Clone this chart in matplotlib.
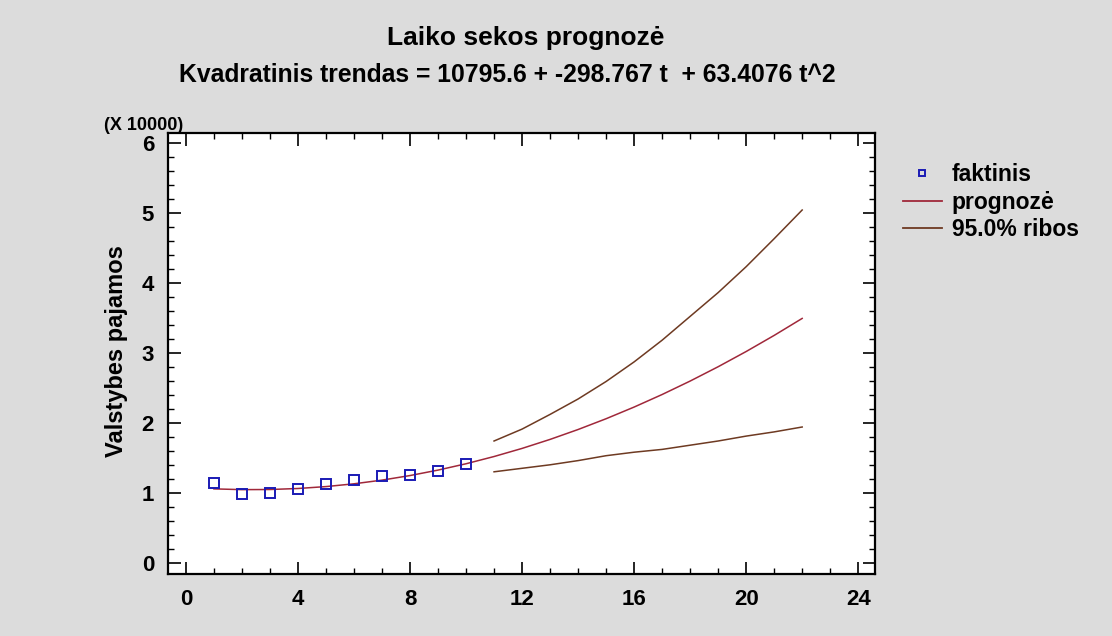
import matplotlib
matplotlib.use("Agg")
import matplotlib.pyplot as plt
from matplotlib.lines import Line2D
import numpy as np

plt.rcParams['font.family'] = ['Liberation Sans', 'DejaVu Sans']
plt.rcParams['font.weight'] = 'bold'

# data (raw units)
t_actual = [1, 2, 3, 4, 5, 6, 7, 8, 9, 10]
actual = [11450, 9800, 10000, 10600, 11200, 11850, 12400, 12500, 13150, 14150]

t_fore = [1, 2, 3, 4, 5, 6, 7, 8, 9, 10, 11, 12, 13, 14, 15, 16, 17, 18, 19, 20, 21, 22]
forecast = [10560, 10452, 10470, 10615, 10887, 11286, 11811, 12464, 13243, 14149,
            15182, 16341, 17628, 19041, 20581, 22248, 24041, 25962, 28009, 30183, 32484, 34912]

t_band = [11, 12, 13, 14, 15, 16, 17, 18, 19, 20, 21, 22]
upper = [17400, 19100, 21200, 23400, 25900, 28700, 31800, 35200, 38600, 42300, 46300, 50400]
lower = [13000, 13500, 14000, 14600, 15300, 15800, 16200, 16800, 17400, 18100, 18700, 19400]

scale = 10000.0
xticks = [0, 4, 8, 12, 16, 20, 24]
yticks = [0, 1, 2, 3, 4, 5, 6]

bg = '#dcdcdc'
fig = plt.figure(figsize=(11.12, 6.36), dpi=100, facecolor=bg)
ax = fig.add_axes([168/1112, 1-574/636, (875-168)/1112, (574-133)/636])
ax.set_facecolor('white')

c_fore = '#a0283a'
c_band = '#6e3a22'
c_pts = '#1a1ab4'

ax.plot(t_fore, np.array(forecast)/scale, color=c_fore, lw=1.1, zorder=2)
ax.plot(t_band, np.array(upper)/scale, color=c_band, lw=1.1, zorder=2)
ax.plot(t_band, np.array(lower)/scale, color=c_band, lw=1.1, zorder=2)
ax.plot(t_actual, np.array(actual)/scale, linestyle='none', marker='s', ms=6.5,
        mfc='none', mec=c_pts, mew=1.4, zorder=3)

ax.set_xlim(-0.64, 24.6)
ax.set_ylim(-0.16, 6.14)
ax.set_xticks(xticks)
ax.set_yticks(yticks)
ax.set_xticks(np.arange(0, 25, 1), minor=True)
ax.set_yticks(np.arange(0, 6.01, 0.2), minor=True)
ax.tick_params(which='both', direction='in', top=True, right=True, colors='black')
ax.tick_params(which='major', length=9, width=1.2, labelsize=16)
ax.tick_params(axis='x', which='major', pad=11)
ax.tick_params(axis='y', which='major', pad=10)
ax.tick_params(which='minor', length=4, width=1.0)
for lab in ax.get_xticklabels() + ax.get_yticklabels():
    lab.set_fontweight('bold')
for sp in ax.spines.values():
    sp.set_linewidth(1.6)
    sp.set_color('black')

fig.text(117/1112, 1-351/636, 'Valstybes pajamos', fontsize=17, fontweight='bold',
         rotation=90, ha='center', va='center')
fig.text(104/1112, 1-125/636, '(X 10000)', fontsize=13, fontweight='bold', ha='left', va='center')

fig.text(526/1112, 1-38/636, 'Laiko sekos prognozė', fontsize=19, fontweight='bold',
         ha='center', va='center')
fig.text(507/1112, 1-75/636, 'Kvadratinis trendas = 10795.6 + -298.767 t  + 63.4076 t^2',
         fontsize=17.8, fontweight='bold', ha='center', va='center')

handles = [
    Line2D([], [], linestyle='none', marker='s', ms=5, mfc='none', mec=c_pts, mew=1.4),
    Line2D([], [], color=c_fore, lw=1.3),
    Line2D([], [], color=c_band, lw=1.3),
]
fig.legend(handles, ['faktinis', 'prognozė', '95.0% ribos'],
           loc='upper left', bbox_to_anchor=(903/1112, 1-163/636), frameon=False,
           prop={'size': 16.5, 'weight': 'bold'}, handlelength=1.7, handletextpad=0.42,
           labelspacing=0.2, borderpad=0, borderaxespad=0)

fig.savefig('out.png', dpi=100, facecolor=bg)
